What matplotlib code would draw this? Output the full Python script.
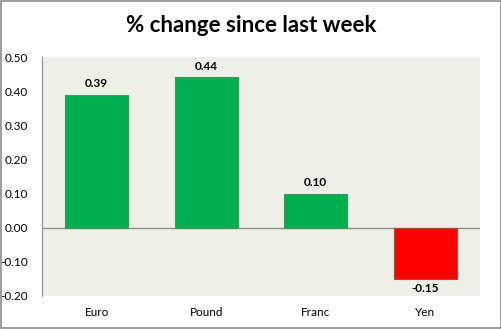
import matplotlib.pyplot as plt
from matplotlib.patches import Rectangle

currencies = ['Euro', 'Pound', 'Franc', 'Yen']
changes = [0.39, 0.44, 0.10, -0.15]
yticks = [-0.20, -0.10, 0.00, 0.10, 0.20, 0.30, 0.40, 0.50]

plt.rcParams['font.family'] = ['Lato', 'DejaVu Sans']

fig = plt.figure(figsize=(5.02, 3.29), dpi=100)
ax = fig.add_axes([42 / 502, 1 - 296 / 329, (480 - 42) / 502, (296 - 57) / 329])
fig.patches.append(Rectangle((0.001, 0.002), 0.997, 0.995, transform=fig.transFigure,
                             fill=False, edgecolor='#8c8c8c', linewidth=1.2))

colors = ['#00B050' if v >= 0 else '#FF0000' for v in changes]
edges = ['#3f9a5a' if v >= 0 else '#a0522d' for v in changes]
x = range(len(currencies))
ax.bar(x, changes, width=0.575, color=colors, edgecolor=edges, linewidth=0.8, zorder=3)

for i, v in enumerate(changes):
    if v >= 0:
        ax.text(i, v + 0.015, f'{v:.2f}', ha='center', va='bottom', fontsize=8.5, fontweight='bold')
    else:
        ax.text(i, v - 0.012, f'{v:.2f}', ha='center', va='top', fontsize=8.5, fontweight='bold')

ax.set_facecolor('#EEF0E8')
ax.set_xlim(-0.5, 3.5)
ax.set_ylim(-0.20, 0.50)
ax.set_yticks(yticks)
ax.set_yticklabels([f'{t:.2f}' for t in yticks], fontsize=8.5)
ax.set_xticks(list(x))
ax.set_xticklabels(currencies, fontsize=8.5)
ax.tick_params(axis='x', length=0, pad=8)
ax.tick_params(axis='y', length=0, pad=10)
ax.axhline(0, color='#8c8c8c', linewidth=1, zorder=2)
for s in ['top', 'right', 'bottom']:
    ax.spines[s].set_visible(False)
ax.spines['left'].set_color('#8c8c8c')

fig.text(0.5, 1 - 26 / 329, '% change since last week', ha='center', va='center',
         fontsize=16, fontweight='bold')

fig.savefig('out.png', dpi=100)
